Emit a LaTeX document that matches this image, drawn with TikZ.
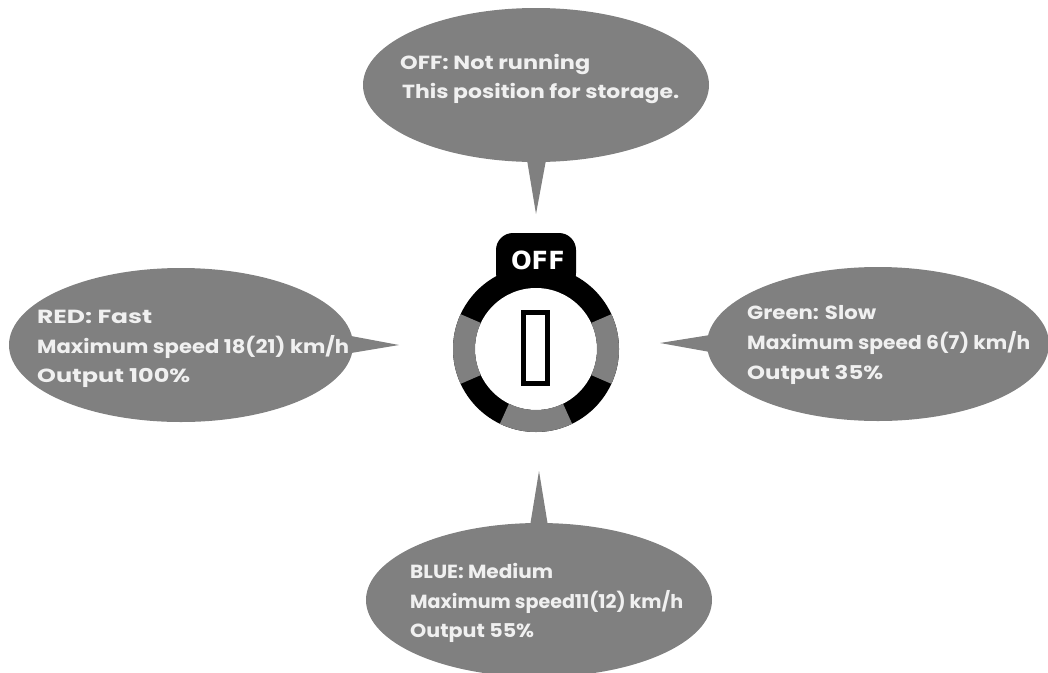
\documentclass[tikz,border=0pt]{standalone}
\usepackage{graphicx}
\usepackage{fontspec}
\setmainfont{Poppins}
\newfontfamily\offfont{DejaVu Sans}
\definecolor{bubble}{HTML}{808080}
\newcommand{\fitline}[2]{\resizebox{#1pt}{\height}{#2}}
\tikzset{
  x=1pt,y=-1pt,
  bubblefill/.style={fill=bubble,draw=none},
  calloutline/.style={anchor=base west,inner sep=0pt,text=white!94!black,font=\bfseries\fontsize{19}{22}\selectfont},
  ringseg/.style={line width=22pt,draw=bubble,line cap=butt},
}
\begin{document}
\begin{tikzpicture}
\useasboundingbox (0,0) rectangle (1048,672);
\clip (0,0) rectangle (1048,672);
% callouts
\fill[bubblefill] (536,85) ellipse [x radius=173,y radius=77];
\fill[bubblefill] (527,160) -- (536,214) -- (546,160) -- cycle;
\fill[bubblefill] (181,345) ellipse [x radius=172,y radius=77];
\fill[bubblefill] (351,336) -- (399,345) -- (351,353) -- cycle;
\fill[bubblefill] (878,344) ellipse [x radius=171,y radius=77];
\fill[bubblefill] (710,335) -- (660,343) -- (710,352) -- cycle;
\fill[bubblefill] (539,600) ellipse [x radius=173,y radius=77];
\fill[bubblefill] (530,526) -- (539,471) -- (548,526) -- cycle;
% switch
\fill[black,rounded corners=17pt] (496,290) -- (496,233) -- (576,233) -- (576,290) -- cycle;
\fill[black] (536,349) circle [radius=83];
\fill[white] (536,349) circle [radius=61];
\draw[ringseg] (536,349) ++(25:72) arc [start angle=25,end angle=-25,radius=72];
\draw[ringseg] (536,349) ++(155:72) arc [start angle=155,end angle=205,radius=72];
\draw[ringseg] (536,349) ++(64:72) arc [start angle=64,end angle=116,radius=72];
\draw[black,line width=4.5pt,fill=white] (523.3,312.3) rectangle (547.7,383.7);
\node[anchor=base,inner sep=0pt,text=white,font=\offfont\bfseries\fontsize{25}{25}\selectfont] (offmark) at (538,269) {\fitline{54}{OFF}};
% text
\node[calloutline] (t1a) at (400,69) {\fitline{190}{OFF: Not running}};
\node[calloutline] (t1b) at (402,98) {\fitline{277}{This position for storage.}};
\node[calloutline] (t2a) at (37,323) {\fitline{115}{RED: Fast}};
\node[calloutline] (t2b) at (37,353) {\fitline{312}{Maximum speed 18(21) km/h}};
\node[calloutline] (t2c) at (37,382) {\fitline{153}{Output 100\%}};
\node[calloutline] (t3a) at (747,319) {\fitline{129}{Green: Slow}};
\node[calloutline] (t3b) at (747,349) {\fitline{283}{Maximum speed 6(7) km/h}};
\node[calloutline] (t3c) at (747,379) {\fitline{136}{Output 35\%}};
\node[calloutline] (t4a) at (410,578) {\fitline{143}{BLUE: Medium}};
\node[calloutline] (t4b) at (410,608) {\fitline{273}{Maximum speed11(12) km/h}};
\node[calloutline] (t4c) at (410,637) {\fitline{124}{Output 55\%}};
\end{tikzpicture}
\end{document}
